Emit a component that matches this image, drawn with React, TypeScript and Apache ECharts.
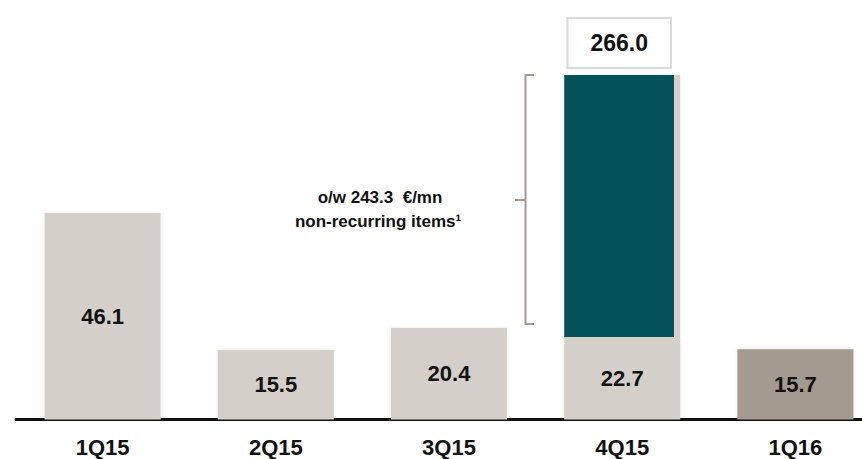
import React, { useEffect, useRef } from "react";
import * as echarts from "echarts";

const categories = ["1Q15", "2Q15", "3Q15", "4Q15", "1Q16"];
const quarterValues: (number | string)[] = [46.1, 15.5, 20.4, "-", 15.7];
const recurring4Q15: (number | string)[] = ["-", "-", "-", 22.7, "-"];
const nonRecurring4Q15: (number | string)[] = ["-", "-", "-", 243.3, "-"];
const barColors = ["#D4D0C9", "#D4D0C9", "#D4D0C9", "#D4D0C9", "#A49A8F"];

const FONT = '"Liberation Sans", Arial, Helvetica, sans-serif';
const LIGHT = "#D4D0C9";
const TEAL = "#03525A";
const BRACE = "#A39A90";

export default function App() {
  const ref = useRef<HTMLDivElement>(null);

  useEffect(() => {
    if (!ref.current) return;
    const chart = echarts.init(ref.current, null, { renderer: "svg" });

    const nonRecValue = nonRecurring4Q15[3] as number;
    const recValue = recurring4Q15[3] as number;
    const total = (nonRecValue + recValue).toFixed(1);

    const valueLabel = {
      show: true,
      position: "inside" as const,
      fontFamily: FONT,
      fontWeight: "bold" as const,
      fontSize: 22,
      color: "#111",
      formatter: (p: any) => Number(p.value).toFixed(1),
    };

    const softShadow = {
      shadowBlur: 3,
      shadowColor: "rgba(0,0,0,0.12)",
    };

    chart.setOption({
      animation: false,
      backgroundColor: "#ffffff",
      grid: {
        left: 16,
        right: -20,
        top: 75,
        bottom: 39.5,
        containLabel: false,
        outerBoundsMode: "none",
      },
      xAxis: {
        type: "category",
        data: categories,
        axisLine: { show: true, lineStyle: { color: "#111", width: 3 } },
        axisTick: { show: false },
        splitLine: { show: false },
        axisLabel: {
          margin: 19,
          fontFamily: FONT,
          fontWeight: "bold",
          fontSize: 22,
          lineHeight: 18,
          color: "#111",
        },
      },
      yAxis: [
        { type: "value", min: 0, max: 76.9, show: false, splitLine: { show: false } },
        {
          type: "value",
          min: 0,
          max: 266,
          show: false,
          splitLine: { show: false },
          breaks: [{ start: 25, end: 240, gap: "46.2%" }],
          breakArea: { show: false },
        },
      ],
      series: [
        {
          name: "Quarter",
          type: "bar",
          yAxisIndex: 0,
          barWidth: 116,
          barGap: "-100%",
          data: quarterValues.map((v, i) => ({
            value: v,
            itemStyle: { color: barColors[i], ...softShadow },
          })),
          label: valueLabel,
        },
        {
          name: "Recurring",
          type: "bar",
          yAxisIndex: 1,
          stack: "q4",
          barWidth: 116,
          barGap: "-100%",
          data: recurring4Q15,
          itemStyle: { color: LIGHT, ...softShadow },
          label: valueLabel,
        },
        {
          name: "Non-recurring",
          type: "bar",
          yAxisIndex: 1,
          stack: "q4",
          barWidth: 116,
          barGap: "-100%",
          data: nonRecurring4Q15,
          itemStyle: {
            color: {
              type: "linear",
              x: 0,
              y: 0,
              x2: 1,
              y2: 0,
              colorStops: [
                { offset: 0, color: TEAL },
                { offset: 0.945, color: TEAL },
                { offset: 0.945, color: LIGHT },
                { offset: 1, color: LIGHT },
              ],
            },
          },
          label: {
            show: true,
            position: "top",
            distance: 8,
            offset: [-3, 0],
            formatter: () => total,
            fontFamily: FONT,
            fontWeight: "bold",
            fontSize: 23,
            lineHeight: 24,
            color: "#111",
            backgroundColor: "#ffffff",
            borderColor: "#D9D9D9",
            borderWidth: 2,
            padding: [12, 22, 12, 22],
          },
        },
      ],
      graphic: [
        {
          type: "polyline",
          silent: true,
          shape: {
            points: [
              [534, 75],
              [525.5, 75],
              [525.5, 324],
              [534, 324],
            ],
          },
          style: { stroke: BRACE, lineWidth: 2, fill: null },
        },
        {
          type: "line",
          silent: true,
          shape: { x1: 515, y1: 200, x2: 525.5, y2: 200 },
          style: { stroke: BRACE, lineWidth: 2 },
        },
        {
          type: "text",
          silent: true,
          x: 380,
          y: 197,
          style: {
            text: `o/w ${nonRecValue.toFixed(1)}  €/mn`,
            fontFamily: FONT,
            fontWeight: "bold",
            fontSize: 17,
            fill: "#111",
            align: "center",
            verticalAlign: "middle",
          },
        },
        {
          type: "text",
          silent: true,
          x: 378,
          y: 221,
          style: {
            text: "non-recurring items¹",
            fontFamily: FONT,
            fontWeight: "bold",
            fontSize: 17,
            fill: "#111",
            align: "center",
            verticalAlign: "middle",
          },
        },
      ],
    });

    return () => chart.dispose();
  }, []);

  return (
    <div
      ref={ref}
      style={{ position: "absolute", left: 0, top: 0, width: 862, height: 459 }}
    />
  );
}
